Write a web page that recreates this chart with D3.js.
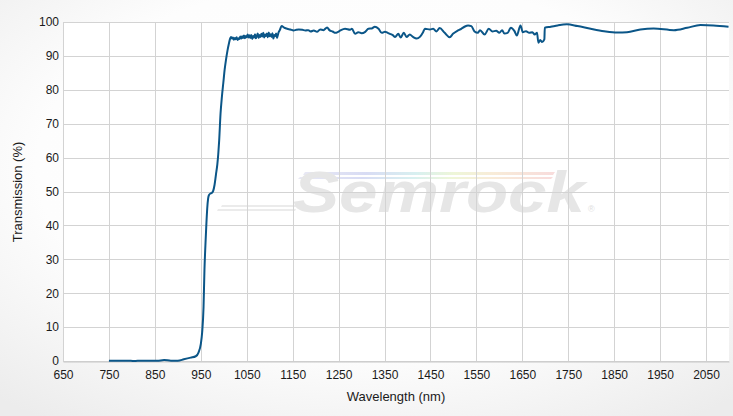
<!DOCTYPE html>
<html><head><meta charset="utf-8">
<script src="https://cdn.jsdelivr.net/npm/d3@7"></script>
<style>html,body{margin:0;padding:0;overflow:hidden;}svg{display:block;}</style>
</head><body>
<svg id="c" width="733" height="416"></svg>
<script>
const wavelengths = [750,770,790,805,820,840,855,870,885,900,913,928,939,945,950,953,956,958,960,962,964,966,968,971,974,977,980,983,986,988,990,993,996,999,1002,1005,1008,1011,1014,1016,1018,1020,1022,1024,1026,1028,1030,1032,1034,1036,1038,1040,1042,1044,1046,1048,1050,1052,1054,1056,1058,1060,1062,1064,1066,1068,1070,1072,1074,1076,1078,1080,1082,1084,1086,1088,1090,1092,1094,1096,1098,1100,1102,1104,1106,1108,1110,1112,1114,1116,1119,1122,1126,1132,1138,1145,1152,1158,1163,1171,1178,1184,1189,1196,1203,1210,1217,1225,1230,1237,1243,1249,1254,1264,1275,1279,1286,1293,1300,1308,1315,1322,1329,1337,1344,1351,1357,1362,1368,1373,1380,1385,1392,1398,1405,1412,1420,1427,1434,1438,1449,1456,1463,1470,1481,1492,1499,1510,1517,1524,1532,1539,1546,1553,1558,1568,1577,1585,1593,1600,1606,1611,1618,1625,1633,1638,1646,1651,1658,1665,1672,1677,1682,1685,1689,1693,1698,1699,1712,1727,1747,1770,1799,1828,1857,1878,1907,1936,1980,2009,2038,2066,2099];
const transmission = [0.1,0.05,0.1,0.0,0.1,0.1,0.05,0.3,0.1,0.1,0.5,1.0,1.4,2.5,5,8.5,16,27,34,40,45,48,49,49.4,49.6,50.2,52,55,58,61,65,73,78,82,86,89,91.5,93.5,95.2,95.6,95.1,95.4,94.8,95.3,94.9,95.5,94.7,95.2,95.0,95.7,95.1,95.8,95.3,96.0,95.2,95.9,95.5,96.3,95.4,96.1,95.3,96.2,95.0,95.9,95.4,96.4,95.2,95.8,96.6,95.3,96.2,95.6,96.5,95.7,96.8,95.4,96.3,95.9,96.6,95.5,96.9,95.8,96.4,95.6,96.7,95.1,96.2,95.8,96.6,95.3,96.8,97.6,98.8,98.3,98.0,97.8,97.5,97.7,97.8,97.7,97.5,97.6,97.2,97.5,97.1,97.8,97.6,98.4,97.6,97.2,96.8,97.1,97.5,98.0,97.7,98.0,96.5,97.0,96.7,97.1,98.0,98.1,98.6,98.0,96.8,97.1,96.8,96.5,96.1,95.6,96.5,95.4,96.8,95.6,96.3,95.6,95.1,95.6,97.0,98.0,97.8,98.0,97.2,98.2,96.8,95.5,96.5,97.5,98.0,98.6,99.0,98.8,97.2,96.8,97.6,96.3,98.0,97.2,97.4,96.8,97.6,96.6,96.8,98.3,97.3,96.0,99.0,97.0,97.3,96.8,97.0,96.3,96.8,93.9,94.7,94.1,94.9,98.3,98.6,99.0,99.3,98.8,98.0,97.3,96.9,97.0,97.8,98.1,97.6,98.3,99.1,99.0,98.6];
const xTicks = [650,750,850,950,1050,1150,1250,1350,1450,1550,1650,1750,1850,1950,2050];
const yTicks = [0,10,20,30,40,50,60,70,80,90,100];
const xTitle = "Wavelength (nm)";
const yTitle = "Transmission (%)";
const watermark = "Semrock";

const svg = d3.select("#c");
const W = 733, H = 416;
const m = {left:63, right:4, top:22, bottom:55};
const x = d3.scaleLinear().domain([650,2100]).range([m.left, W - m.right]);
const y = d3.scaleLinear().domain([0,100]).range([H - m.bottom, m.top]);

const defs = svg.append("defs");
const rg = defs.append("radialGradient").attr("id","bg").attr("cx","50%").attr("cy","40%").attr("r","75%");
rg.append("stop").attr("offset","0%").attr("stop-color","#ffffff");
rg.append("stop").attr("offset","60%").attr("stop-color","#fdfdfd");
rg.append("stop").attr("offset","100%").attr("stop-color","#ececec");
svg.append("rect").attr("width",W).attr("height",H).attr("fill","url(#bg)");

svg.append("rect").attr("x",x(650)).attr("y",y(100)).attr("width",x(2100)-x(650)).attr("height",y(0)-y(100)).attr("fill","#ffffff");

// watermark
const rb = defs.append("linearGradient").attr("id","rb");
[["0%","#e8e8f4"],["25%","#d8dcf4"],["45%","#d8f0f0"],["60%","#eef6d8"],["75%","#f8ecd8"],["100%","#f8dcdc"]].forEach(s=>rb.append("stop").attr("offset",s[0]).attr("stop-color",s[1]));
const wm = svg.append("g");
wm.append("path").attr("d","M305,172 L555,172 L553,175 L303,175 Z").attr("fill","url(#rb)");
wm.append("path").attr("d","M300,177 L553,177 L551,179 L298,179 Z").attr("fill","url(#rb)");
wm.append("path").attr("d","M222,205 L300,205 L299,207 L221,207 Z").attr("fill","#ebebeb");
wm.append("path").attr("d","M218,209 L296,209 L295,211 L217,211 Z").attr("fill","#ebebeb");
wm.append("text").attr("x",293).attr("y",212).attr("font-family","Liberation Sans, Arial, sans-serif")
  .attr("font-size",58).attr("font-weight","bold").attr("font-style","italic")
  .attr("fill","#e6e6e6").attr("textLength",292).attr("lengthAdjust","spacingAndGlyphs").text(watermark);
wm.append("text").attr("x",588).attr("y",212).attr("font-family","Liberation Sans, Arial, sans-serif")
  .attr("font-size",9).attr("fill","#e0e0e0").text("\u00AE");

// grid
const g = svg.append("g");
g.selectAll(".vx").data(xTicks).join("line")
  .attr("x1",d=>Math.round(x(d))+0.5).attr("x2",d=>Math.round(x(d))+0.5)
  .attr("y1",y(100)).attr("y2",y(0)).attr("stroke","#d3d3d3").attr("stroke-width",1);
g.selectAll(".hy").data(yTicks).join("line")
  .attr("x1",x(650)).attr("x2",x(2100))
  .attr("y1",d=>Math.round(y(d))+0.5).attr("y2",d=>Math.round(y(d))+0.5)
  .attr("stroke","#d3d3d3").attr("stroke-width",1);

// axes with d3
const font = "Liberation Sans, Arial, sans-serif";
const xa = svg.append("g").attr("transform",`translate(0,${Math.round(y(0))+0.5})`)
  .call(d3.axisBottom(x).tickValues(xTicks).tickSize(0).tickPadding(9).tickFormat(d3.format("d")));
xa.select(".domain").attr("stroke","#c8c8c8");
xa.selectAll("text").attr("font-family",font).attr("font-size",12).attr("fill","#1a1a1a");
const ya = svg.append("g").attr("transform",`translate(${m.left - 4},0)`)
  .call(d3.axisLeft(y).tickValues(yTicks).tickSize(0).tickPadding(0).tickFormat(d3.format("d")));
ya.select(".domain").remove();
ya.selectAll("text").attr("font-family",font).attr("font-size",12).attr("fill","#1a1a1a");

svg.append("text").attr("x",396).attr("y",401).attr("text-anchor","middle")
  .attr("font-family",font).attr("font-size",13).attr("fill","#1a1a1a").text(xTitle);
svg.append("text").attr("transform","translate(22,192) rotate(-90)").attr("text-anchor","middle")
  .attr("font-family",font).attr("font-size",13).attr("fill","#1a1a1a").text(yTitle);

// line
const data = wavelengths.map((w,i)=>[w,transmission[i]]);
svg.append("path").datum(data)
  .attr("d",d3.line().x(d=>x(d[0])).y(d=>y(d[1])).curve(d3.curveMonotoneX))
  .attr("fill","none").attr("stroke","#0b5688").attr("stroke-width",2).attr("stroke-linejoin","round");
</script>
</body></html>
